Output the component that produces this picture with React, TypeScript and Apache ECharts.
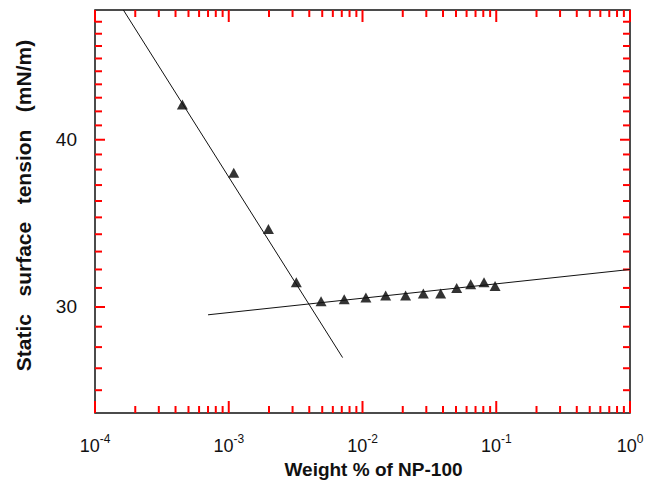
import { useEffect, useRef } from 'react';
import * as echarts from 'echarts';

// Measured data (weight % of NP-100 vs static surface tension, mN/m)
const concentration = [0.00045, 0.00109, 0.00198, 0.0032, 0.0049, 0.0073, 0.0106, 0.0149, 0.021, 0.0285, 0.0384, 0.0506, 0.0644, 0.081, 0.098];
const tension = [42.5, 37.8, 34.3, 31.3, 30.3, 30.4, 30.5, 30.6, 30.6, 30.7, 30.7, 31.0, 31.2, 31.3, 31.1];

// Fitted lines (end points)
const steepFitX = [0.000163, 0.0071];
const steepFitY = [50, 27.5];
const flatFitX = [0.0007, 1];
const flatFitY = [29.6, 32.0];

// Axis ranges and ticks
const X_MIN = 0.0001;
const X_MAX = 1;
const Y_MIN = 25;
const Y_MAX = 50;
const xMajorTicks = [0.0001, 0.001, 0.01, 0.1, 1];
const xMinorMultipliers = [2, 3, 4, 5, 6, 7, 8, 9];
const yMajorTicks = [30, 40];
const yMinorTicks = [26, 27, 28, 29, 31, 32, 33, 34, 35, 36, 37, 38, 39, 41, 42, 43, 44, 45, 46, 47, 48, 49];

const xMinorTicks: number[] = [];
xMajorTicks.slice(0, -1).forEach((d) => xMinorMultipliers.forEach((m) => xMinorTicks.push(+(d * m).toPrecision(6))));

const FONT = 'Liberation Sans, Arial, Helvetica, sans-serif';
const INK = '#111';
const TICK_COLOR = 'red';
const TICK_W = 2;
const X_ANCHOR = 0.01;
const Y_ANCHOR = 35;

type Side = 'bottom' | 'top' | 'left' | 'right';
const tickSeries = (side: Side, values: number[], len: number) => ({
  type: 'custom',
  data: values.map((v) => (side === 'bottom' || side === 'top' ? [v, Y_ANCHOR] : [X_ANCHOR, v])),
  renderItem: (params: any, api: any) => {
    const p = api.coord([api.value(0), api.value(1)]);
    const cs = params.coordSys;
    let shape;
    if (side === 'bottom') shape = { x: p[0] - TICK_W / 2, y: cs.y + cs.height - len, width: TICK_W, height: len };
    else if (side === 'top') shape = { x: p[0] - TICK_W / 2, y: cs.y, width: TICK_W, height: len };
    else if (side === 'left') shape = { x: cs.x, y: p[1] - TICK_W / 2, width: len, height: TICK_W };
    else shape = { x: cs.x + cs.width - len, y: p[1] - TICK_W / 2, width: len, height: TICK_W };
    return { type: 'rect', shape, style: { fill: TICK_COLOR } };
  },
});

export default function App() {
  const ref = useRef<HTMLDivElement>(null);
  useEffect(() => {
    const chart = echarts.init(ref.current!, null, { renderer: 'svg' });
    const option = {
      animation: false,
      grid: {
        left: 95, right: 27, top: 10, bottom: 78,
        outerBoundsMode: 'none',
        show: true, borderColor: INK, borderWidth: 1.5,
      },
      xAxis: {
        type: 'log',
        min: X_MIN,
        max: X_MAX,
        axisLine: { show: false },
        axisTick: { show: false },
        splitLine: { show: false },
        axisLabel: {
          customValues: xMajorTicks,
          margin: 20,
          formatter: (v: number) => '{base|10}{sup|' + Math.round(Math.log10(v)) + '}',
          rich: {
            base: { fontSize: 18, fontFamily: FONT, color: INK, verticalAlign: 'bottom', lineHeight: 22 },
            sup: { fontSize: 12, fontFamily: FONT, color: INK, verticalAlign: 'top', lineHeight: 22 },
          },
        },
        name: 'Weight % of NP-100',
        nameLocation: 'middle',
        nameGap: 44,
        nameTextStyle: { fontSize: 19, fontWeight: 'bold', fontFamily: FONT, color: INK, padding: [0, 0, 0, 22] },
      },
      yAxis: {
        type: 'log',
        min: Y_MIN,
        max: Y_MAX,
        axisLine: { show: false },
        axisTick: { show: false },
        splitLine: { show: false },
        axisLabel: {
          customValues: yMajorTicks,
          margin: 18,
          fontSize: 19,
          fontFamily: FONT,
          color: INK,
        },
        name: 'Static   surface   tension   (mN/m)',
        nameLocation: 'middle',
        nameGap: 61,
        nameTextStyle: { fontSize: 21, fontWeight: 'bold', fontFamily: FONT, color: INK, padding: [0, 0, 0, 12] },
      },
      series: [
        tickSeries('bottom', xMajorTicks, 12),
        tickSeries('bottom', xMinorTicks, 7),
        tickSeries('top', xMajorTicks, 12),
        tickSeries('top', xMinorTicks, 7),
        tickSeries('left', yMajorTicks, 10),
        tickSeries('left', yMinorTicks, 7),
        tickSeries('right', yMajorTicks, 10),
        tickSeries('right', yMinorTicks, 7),
        {
          type: 'line',
          data: steepFitX.map((x, i) => [x, steepFitY[i]]),
          showSymbol: false,
          symbol: 'none',
          lineStyle: { color: INK, width: 1 },
        },
        {
          type: 'line',
          data: flatFitX.map((x, i) => [x, flatFitY[i]]),
          showSymbol: false,
          symbol: 'none',
          lineStyle: { color: INK, width: 1 },
        },
        {
          type: 'scatter',
          data: concentration.map((x, i) => [x, tension[i]]),
          symbol: 'triangle',
          symbolSize: [11, 10],
          itemStyle: { color: '#000' },
        },
      ],
    };
    chart.setOption(option as any);
    return () => chart.dispose();
  }, []);
  return <div ref={ref} style={{ position: 'absolute', left: 0, top: 0, width: 657, height: 491, background: '#fff' }} />;
}
